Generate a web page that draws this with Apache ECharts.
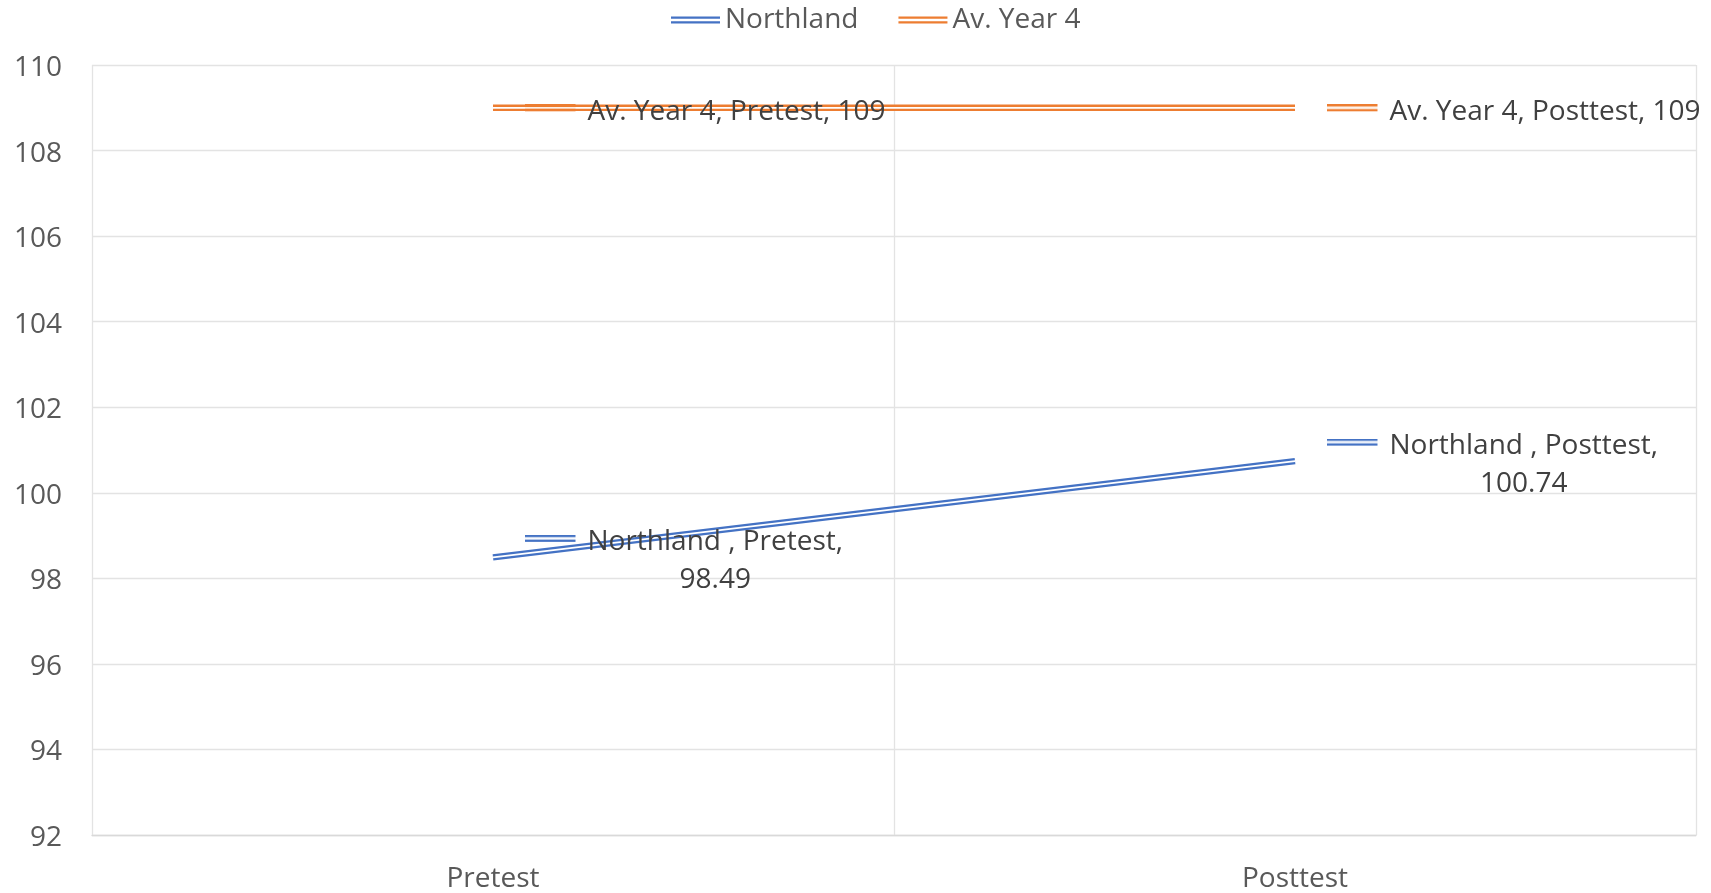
<!DOCTYPE html>
<html>
<head>
<meta charset="utf-8">
<style>
  html, body { margin: 0; padding: 0; background: #fff; }
  #chart { width: 1711px; height: 893px; }
</style>
<script src="https://cdn.jsdelivr.net/npm/echarts@6/dist/echarts.min.js"></script>
</head>
<body>
<div id="chart"></div>
<script>
// 数据
const categories = ['Pretest', 'Posttest'];
const northlandValues = [98.49, 100.74];
const avYear4Values = [109, 109];
const seriesNames = ['Northland', 'Av. Year 4'];
const seriesColors = ['#4472C4', '#ED7D31'];

const FONT = 'Open Sans';
const FONT_SIZE = 28;
const TEXT_COLOR = '#404040';
const AXIS_COLOR = '#595959';
const GRID_COLOR = '#e3e3e3';

// 双线图例标记 (Excel compound line)，线条画在上半部分，与文字下移抵消
function makeKey(color) {
  const c = document.createElement('canvas');
  c.width = 63;
  c.height = 15;
  const ctx = c.getContext('2d');
  ctx.fillStyle = color;
  ctx.fillRect(0, 0, 51, 2.3);
  ctx.fillRect(0, 4.7, 51, 2.3);
  return c;
}

function labelRich(color) {
  return {
    key: { width: 63, height: 15, backgroundColor: { image: makeKey(color) } },
    pad: { width: 63, height: 15 },
    t: { fontFamily: FONT, fontSize: FONT_SIZE, color: TEXT_COLOR, lineHeight: 38 },
    c: { fontFamily: FONT, fontSize: FONT_SIZE, color: TEXT_COLOR, lineHeight: 38, align: 'center' }
  };
}

// 外层彩色粗线 + 内层白色细线 = 双线
function doubleLine(name, values, color, twoLines) {
  const outer = {
    name: name,
    type: 'line',
    data: values,
    color: color,
    symbol: 'none',
    lineStyle: { color: color, width: 6.5, cap: 'butt' },
    z: 2
  };
  const inner = {
    name: name + '-inner',
    type: 'line',
    data: values,
    color: '#ffffff',
    symbol: 'circle',
    symbolSize: 1,
    itemStyle: { color: '#ffffff' },
    lineStyle: { color: '#ffffff', width: 1.8, cap: 'butt' },
    z: 3,
    label: {
      show: true,
      position: 'right',
      distance: 31,
      offset: [0, 4],
      formatter: (p) => {
        const head = name + (twoLines ? ' , ' : ', ') + p.name + ',';
        if (twoLines) {
          return '{key|}{t|' + head + '}\n{pad|}{c|' + p.value + '}';
        }
        return '{key|}{t|' + head + ' ' + p.value + '}';
      },
      rich: labelRich(color)
    },
    emphasis: { disabled: true }
  };
  return [outer, inner];
}

const chart = echarts.init(document.getElementById('chart'));
chart.setOption({
  animation: false,
  textStyle: { fontFamily: FONT },
  legend: {
    data: seriesNames,
    left: 666,
    top: 1,
    itemWidth: 49,
    itemHeight: 7,
    itemGap: 40,
    icon: 'path://M0,0H49V2.3H0Z M0,4.7H49V7H0Z',
    textStyle: { fontFamily: FONT, fontSize: FONT_SIZE, color: AXIS_COLOR }
  },
  grid: {
    left: 92,
    right: 15,
    top: 65,
    bottom: 57
  },
  xAxis: {
    type: 'category',
    data: categories,
    boundaryGap: true,
    axisLine: { lineStyle: { color: '#d9d9d9', width: 1.3 } },
    axisTick: { show: false },
    axisLabel: { fontFamily: FONT, fontSize: FONT_SIZE, color: AXIS_COLOR, margin: 30 },
    splitLine: { show: true, lineStyle: { color: GRID_COLOR, width: 1.3 } }
  },
  yAxis: {
    type: 'value',
    min: 92,
    max: 110,
    interval: 2,
    axisLine: { show: false },
    axisTick: { show: false },
    axisLabel: {
      margin: 30,
      formatter: '{v|{value}}',
      rich: {
        v: {
          fontFamily: FONT,
          fontSize: FONT_SIZE,
          color: AXIS_COLOR,
          padding: [6, 0, 0, 0]
        }
      }
    },
    splitLine: { lineStyle: { color: GRID_COLOR, width: 1.3 } }
  },
  series: [
    ...doubleLine(seriesNames[0], northlandValues, seriesColors[0], true),
    ...doubleLine(seriesNames[1], avYear4Values, seriesColors[1], false)
  ]
});
</script>
</body>
</html>
